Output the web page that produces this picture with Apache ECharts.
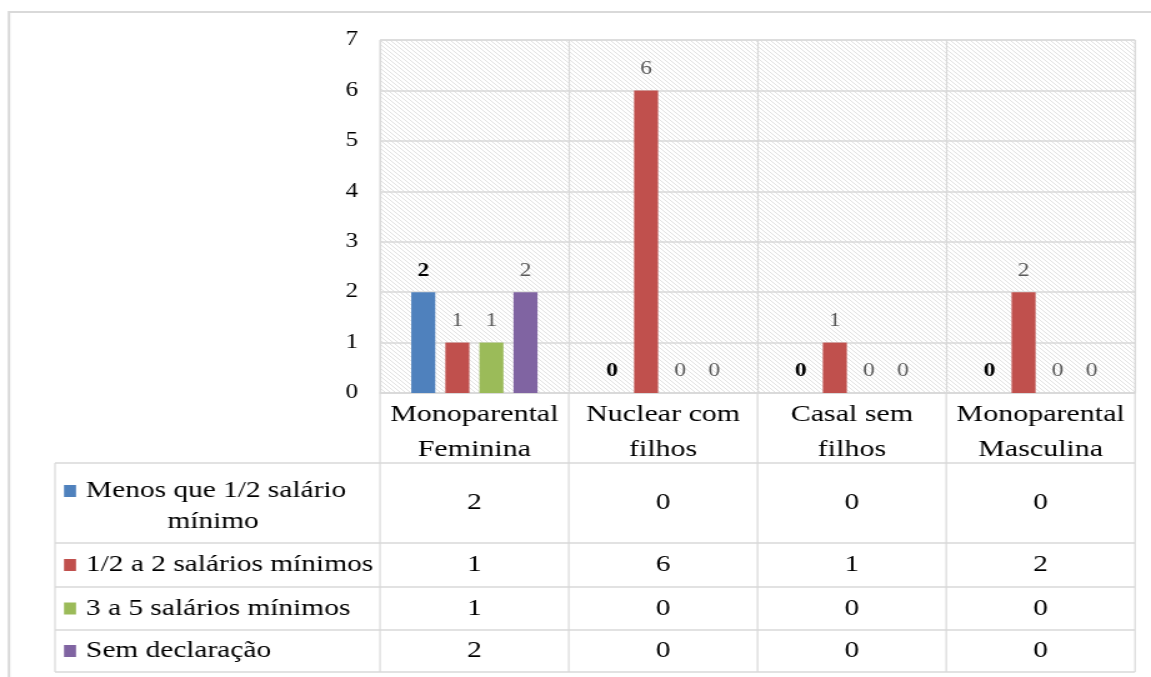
<!DOCTYPE html>
<html>
<head>
<meta charset="utf-8">
<script src="https://cdn.jsdelivr.net/npm/echarts@6/dist/echarts.min.js"></script>
<style>
html,body{margin:0;padding:0;background:#fff;overflow:hidden;}
#c{width:921px;height:677px;transform-origin:0 0;}
</style>
</head>
<body>
<div id="c"></div>
<script>
const categories = ['Monoparental\nFeminina', 'Nuclear com\nfilhos', 'Casal sem\nfilhos', 'Monoparental\nMasculina'];
const seriesNames = ['Menos que 1/2 salário mínimo', '1/2 a 2 salários mínimos', '3 a 5 salários mínimos', 'Sem declaração'];
const menosMeio = [2, 0, 0, 0];
const meioADois = [1, 6, 1, 2];
const tresACinco = [1, 0, 0, 0];
const semDeclaracao = [2, 0, 0, 0];
const yTicks = [0, 1, 2, 3, 4, 5, 6, 7];

const seriesData = [menosMeio, meioADois, tresACinco, semDeclaracao];
const colors = ['#4f81bd', '#c0504d', '#9bbb59', '#8064a2'];
const labelColors = ['#000000', '#595959', '#595959', '#595959'];
const FONT = '"Liberation Serif", "Times New Roman", serif';

// the reference is horizontally stretched; draw narrower and stretch with CSS
const S = 1151 / 921;
const el = document.getElementById('c');
el.style.transform = 'scaleX(' + S + ')';
const X = v => v / S;

// hatch pattern
const pc = document.createElement('canvas');
pc.width = 4; pc.height = 4;
const pctx = pc.getContext('2d');
pctx.fillStyle = '#ffffff';
pctx.fillRect(0, 0, 4, 4);
pctx.fillStyle = '#e2e2e2';
for (let i = 0; i < 4; i++) pctx.fillRect(i, i, 1, 1);

const chart = echarts.init(el, null, {renderer: 'canvas'});

const G = {left: X(380), right: X(1135), top: 40, bottom: 393};
const colW = (G.right - G.left) / categories.length;
const rowY = [463, 543, 587, 630, 672];
const tableLeft = X(55);
const lineColor = '#d9d9d9';
const TFONT = '23.5px ' + FONT;

const graphics = [];
graphics.push({type: 'rect', shape: {x: X(9), y: 12, width: 1300, height: 800}, style: {fill: 'none', stroke: '#d9d9d9', lineWidth: 2}, silent: true});
rowY.forEach(y => graphics.push({type: 'line', shape: {x1: tableLeft, y1: y, x2: G.right, y2: y}, style: {stroke: lineColor, lineWidth: 1.5}}));
for (let i = 0; i <= categories.length; i++) {
  const x = G.left + i * colW;
  graphics.push({type: 'line', shape: {x1: x, y1: G.bottom, x2: x, y2: rowY[4]}, style: {stroke: lineColor, lineWidth: 1.2}});
}
graphics.push({type: 'line', shape: {x1: tableLeft, y1: rowY[0], x2: tableLeft, y2: rowY[4]}, style: {stroke: lineColor, lineWidth: 1.2}});

seriesNames.forEach((name, r) => {
  const y0 = rowY[r], y1 = rowY[r + 1];
  const keyY = r === 0 ? y0 + 28 : (y0 + y1) / 2;
  graphics.push({type: 'rect', shape: {x: X(64), y: keyY - 6, width: X(12), height: 12}, style: {fill: colors[r]}});
  if (r === 0) {
    graphics.push({type: 'text', x: X(86), y: keyY, style: {text: 'Menos que 1/2 salário', font: TFONT, fill: '#000', textVerticalAlign: 'middle', textAlign: 'left'}});
    graphics.push({type: 'text', x: X(213), y: keyY + 31, style: {text: 'mínimo', font: TFONT, fill: '#000', textVerticalAlign: 'middle', textAlign: 'center'}});
  } else {
    graphics.push({type: 'text', x: X(86), y: keyY, style: {text: name, font: TFONT, fill: '#000', textVerticalAlign: 'middle', textAlign: 'left'}});
  }
  seriesData[r].forEach((v, c) => {
    graphics.push({type: 'text', x: G.left + (c + 0.5) * colW, y: (y0 + y1) / 2, style: {text: String(v), font: TFONT, fill: '#000', textVerticalAlign: 'middle', textAlign: 'center'}});
  });
});

const option = {
  animation: false,
  backgroundColor: '#ffffff',
  grid: {
    left: G.left, right: 921 - G.right, top: G.top, bottom: 677 - G.bottom,
    show: true,
    backgroundColor: {image: pc, repeat: 'repeat'},
    borderColor: lineColor, borderWidth: 1
  },
  xAxis: {
    type: 'category',
    data: categories,
    axisLine: {show: true, lineStyle: {color: lineColor, width: 1.5}},
    axisTick: {show: false},
    splitLine: {show: true, lineStyle: {color: lineColor, width: 1.2}},
    axisLabel: {interval: 0, margin: 4, fontFamily: FONT, fontSize: 24, color: '#000', lineHeight: 35, align: 'center'}
  },
  yAxis: {
    type: 'value',
    min: yTicks[0], max: yTicks[yTicks.length - 1], interval: 1,
    axisLine: {show: false},
    axisTick: {show: false},
    splitLine: {show: true, lineStyle: {color: lineColor, width: 1.5}},
    axisLabel: {margin: X(22), fontFamily: FONT, fontSize: 20, color: '#000'}
  },
  series: seriesData.map((d, i) => ({
    name: seriesNames[i],
    type: 'bar',
    data: d,
    barWidth: X(24),
    barGap: '42%',
    itemStyle: {color: colors[i]},
    label: {
      show: true, position: 'top', distance: 12,
      fontFamily: FONT, fontSize: 19,
      color: labelColors[i], fontWeight: i === 0 ? 'bold' : 'normal'
    }
  })),
  graphic: graphics
};
chart.setOption(option);
</script>
</body>
</html>
